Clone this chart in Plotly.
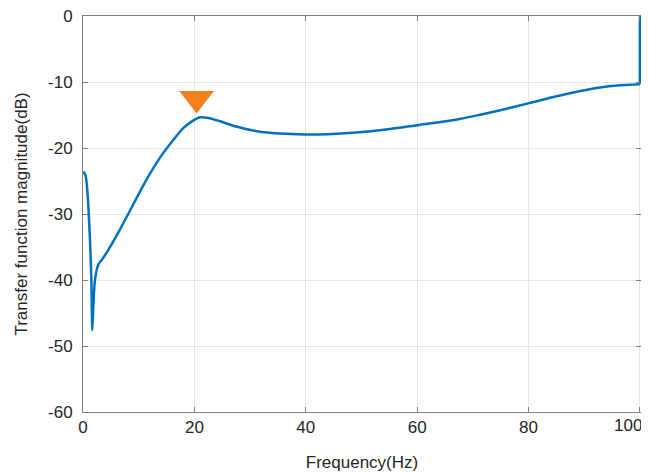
import plotly.graph_objects as go

freq = [0, 0.4, 0.77, 1.25, 1.5, 1.67, 1.85, 2.15, 2.74, 3.5, 4.5, 6.6, 9, 11.4,
        13.8, 16.2, 18, 19.5, 21, 22.5, 24.6, 27.5, 30.5, 33.5, 36.5, 40, 44,
        48.4, 54.4, 60.4, 66.4, 71.1, 75.3, 80.1, 84.3, 90.3, 94.4, 97.5, 100]
mag = [-23.6, -24.0, -26.4, -33.9, -40.0, -47.6, -44.0, -40.0, -37.7, -36.8,
       -35.5, -32.4, -28.6, -24.8, -21.5, -18.8, -17.0, -16.0, -15.35, -15.45,
       -15.95, -16.75, -17.35, -17.7, -17.85, -17.95, -17.9, -17.7, -17.2, -16.5,
       -15.8, -15.0, -14.2, -13.2, -12.3, -11.2, -10.65, -10.45, -10.35]

# jump at the last frequency bin
edge_freq = [100, 100]
edge_mag = [-10.35, 0]

peak_freq = [20.4]
peak_mark = [-12.5]

x_ticks = [0, 20, 40, 60, 80, 100]
x_labels = ["0", "20", "40", "60", "80", ""]
last_x_label = "100"
y_ticks = [0, -10, -20, -30, -40, -50, -60]

line_style = dict(color="#0072BD", width=2.5)
fig = go.Figure()
fig.add_trace(go.Scatter(x=freq, y=mag, mode="lines",
                         line=dict(**line_style, shape="spline", smoothing=0.8),
                         showlegend=False))
fig.add_trace(go.Scatter(x=edge_freq, y=edge_mag, mode="lines",
                         line=line_style, showlegend=False))
fig.add_trace(go.Scatter(x=peak_freq, y=peak_mark, mode="markers",
                         marker=dict(symbol="triangle-down", size=30, color="#F5801F",
                                     line=dict(width=0)),
                         showlegend=False))

font = dict(family="Liberation Sans, Arial", size=17, color="#262626")
axis_common = dict(showline=True, linecolor="#808080", linewidth=1, mirror="ticks",
                   ticks="inside", ticklen=5, tickcolor="#808080", automargin=False,
                   showgrid=True, gridcolor="#E6E6E6", gridwidth=1, zeroline=False,
                   ticklabeloverflow="allow", tickfont=font)

fig.update_xaxes(range=[0, 100.2], tickvals=x_ticks, ticktext=x_labels,
                 title=dict(text="Frequency(Hz)", standoff=19, font=font),
                 **axis_common)
fig.update_yaxes(range=[-60, 0], tickvals=y_ticks, ticktext=[str(v) for v in y_ticks],
                 ticklabelstandoff=6,
                 title=dict(text="Transfer function magnitude(dB)", standoff=16, font=font),
                 **axis_common)

# the last x tick label sits shifted left so it stays inside the window, as in the reference
fig.add_annotation(x=x_ticks[-1], xref="x", y=0, yref="paper", text=last_x_label,
                   showarrow=False, xanchor="right", yanchor="top", xshift=3, yshift=-3,
                   borderpad=0, font=font)

# page body keeps an 8px margin, so the figure is sized/margined to compensate
fig.update_layout(width=641, height=465, margin=dict(l=75, r=8, t=8, b=61),
                  plot_bgcolor="white", paper_bgcolor="white")

fig.write_html("out.html")
